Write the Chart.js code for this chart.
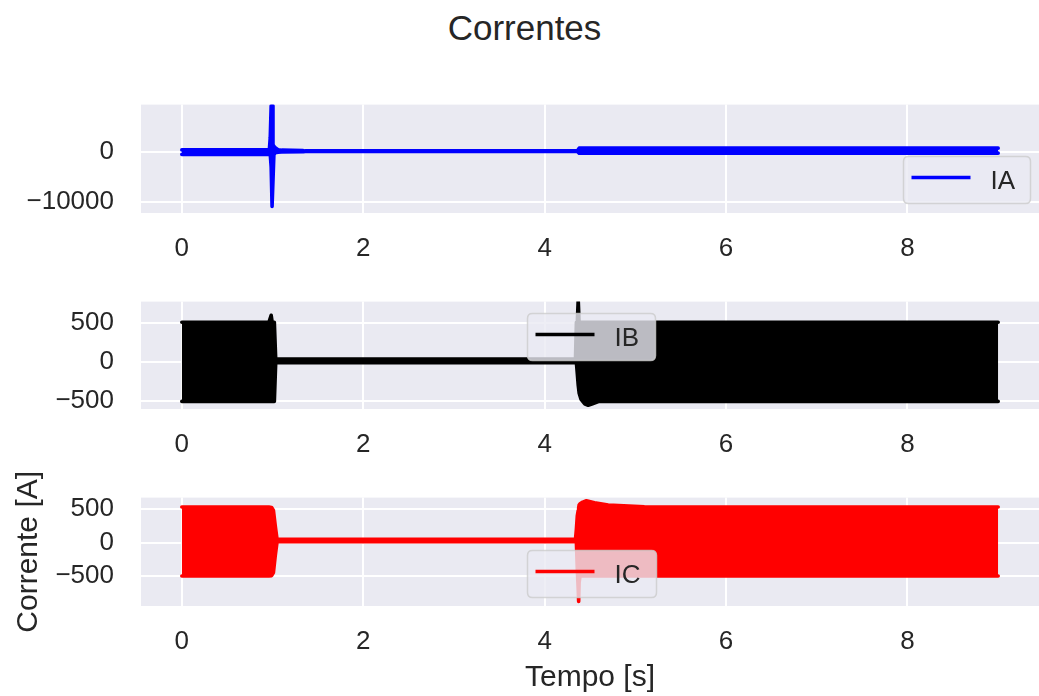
<!DOCTYPE html>
<html><head><meta charset="utf-8">
<script src="https://cdn.jsdelivr.net/npm/chart.js@4.4.1/dist/chart.umd.min.js"></script>
<style>
html,body{margin:0;padding:0;background:#fff;width:1039px;height:696px;overflow:hidden;position:relative}
#title{position:absolute;left:0;top:10px;width:1049px;text-align:center;font-family:'Liberation Sans',Arial,sans-serif;font-size:35px;line-height:35px;color:#262626}
canvas{position:absolute;left:0}
</style></head><body>
<div id="title">Correntes</div>
<canvas id="c1" width="1039" height="201" style="top:62px"></canvas>
<canvas id="c2" width="1039" height="200" style="top:259px"></canvas>
<canvas id="c3" width="1039" height="241" style="top:455px"></canvas>
<script>
// ---- tick labels ----
const xTicks = [0, 2, 4, 6, 8];
const iaTicks = [-10000, 0];
const ibTicks = [-500, 0, 500];
const icTicks = [-500, 0, 500];

// ---- IA (envelope of the oscillating current) ----
const iaTime  = [0, 0.965, 0.975, 0.985, 0.995, 1.005, 1.015, 1.03, 1.06, 1.1, 1.34, 1.36, 4.36, 4.38, 9.0];
const iaUpper = [450, 450, 3000, 9300, 9300, 1500, 1200, 900, 500, 400, 300, 250, 250, 800, 800];
const iaLower = [-450, -450, -450, -3000, -10900, -10900, -500, -100, 0, 50, 100, 150, 150, -200, -200];

// ---- IB ----
const ibTime  = [0, 0.96, 0.985, 0.995, 1.01, 1.02, 1.035, 1.05, 4.34, 4.35, 4.36, 4.37, 4.38, 4.40, 4.44, 4.48, 4.52, 4.6, 9.0];
const ibUpper = [510, 510, 600, 520, 510, 510, 36, 36, 36, 510, 510, 800, 510, 510, 510, 510, 510, 510, 510];
const ibLower = [-510, -510, -510, -510, -510, -510, -10, -10, -10, -10, -150, -300, -400, -480, -540, -560, -545, -510, -510];

// ---- IC ----
const icTime  = [0, 0.96, 0.99, 1.01, 1.03, 1.05, 4.34, 4.35, 4.36, 4.37, 4.375, 4.38, 4.39, 4.42, 4.46, 4.55, 4.7, 5.1, 9.0];
const icUpper = [531, 531, 525, 480, 250, 47, 47, 200, 400, 480, 520, 560, 580, 605, 624, 595, 560, 535, 531];
const icLower = [-500, -500, -495, -450, -200, 11, 11, 0, -400, -700, -883, -600, -500, -500, -500, -500, -500, -500, -500];

const BG = '#EAEAF2', TXT = '#262626';
const FAM = "'Liberation Sans', Arial, sans-serif";
Chart.defaults.font.family = FAM;
Chart.defaults.color = TXT;

const fmt = v => (v < 0 ? '\u2212' + Math.abs(v) : String(v));

const areaBg = {
  id: 'areaBg',
  beforeDraw(chart) {
    const {ctx, chartArea: a} = chart;
    ctx.save();
    ctx.fillStyle = BG;
    ctx.fillRect(a.left, a.top, a.right - a.left, a.bottom - a.top);
    ctx.restore();
  }
};

function rr(ctx, x, y, w, h, r) {
  ctx.beginPath();
  ctx.moveTo(x + r, y);
  ctx.lineTo(x + w - r, y); ctx.quadraticCurveTo(x + w, y, x + w, y + r);
  ctx.lineTo(x + w, y + h - r); ctx.quadraticCurveTo(x + w, y + h, x + w - r, y + h);
  ctx.lineTo(x + r, y + h); ctx.quadraticCurveTo(x, y + h, x, y + h - r);
  ctx.lineTo(x, y + r); ctx.quadraticCurveTo(x, y, x + r, y);
  ctx.closePath();
}

const boxLegend = {
  id: 'boxLegend',
  afterDatasetsDraw(chart, args, o) {
    const {ctx, chartArea: a} = chart;
    const x = Math.round(a.left + o.dx) + 0.5, y = Math.round(a.top + o.dy) + 0.5;
    const ds = chart.data.datasets[0];
    ctx.save();
    rr(ctx, x, y, o.w, o.h, 5);
    ctx.fillStyle = 'rgba(234,234,242,0.8)';
    ctx.fill();
    ctx.strokeStyle = 'rgba(204,204,204,0.8)';
    ctx.lineWidth = 1.5;
    ctx.stroke();
    ctx.strokeStyle = ds.borderColor;
    ctx.lineWidth = 3.6;
    ctx.beginPath();
    ctx.moveTo(x + 8, y + 21);
    ctx.lineTo(x + 67, y + 21);
    ctx.stroke();
    ctx.fillStyle = TXT;
    ctx.font = '26px ' + FAM;
    ctx.textBaseline = 'alphabetic';
    ctx.textAlign = 'left';
    ctx.fillText(ds.label, x + 87, y + 32);
    ctx.restore();
  }
};

function makeChart(id, time, upper, lower, label, color, yMin, yMax, yTicks, xH, leg, titles) {
  const up = time.map((t, i) => ({x: t, y: upper[i]}));
  const lo = time.map((t, i) => ({x: t, y: lower[i]}));
  return new Chart(document.getElementById(id), {
    type: 'line',
    data: {
      datasets: [
        {label: label, data: up, borderColor: color, backgroundColor: color, borderWidth: 3.6,
         pointRadius: 0, fill: '+1', tension: 0, borderJoinStyle: 'round', borderCapStyle: 'round'},
        {label: label + ' ', data: lo, borderColor: color, backgroundColor: color, borderWidth: 3.6,
         pointRadius: 0, fill: false, tension: 0, borderJoinStyle: 'round', borderCapStyle: 'round'}
      ]
    },
    options: {
      responsive: false, animation: false, devicePixelRatio: 1,
      events: [],
      layout: {padding: 0},
      plugins: {legend: {display: false}, tooltip: {enabled: false}, title: {display: false},
                boxLegend: leg},
      scales: {
        x: {
          type: 'linear', min: -0.45, max: 9.45,
          afterBuildTicks: s => { s.ticks = xTicks.map(v => ({value: v})); },
          afterFit: s => { s.height = xH; },
          grid: {color: '#ffffff', lineWidth: 2, drawTicks: false},
          border: {display: false},
          ticks: {padding: 20, font: {size: 26}, color: TXT, maxRotation: 0, autoSkip: false, callback: v => fmt(v)},
          title: titles ? {display: true, text: 'Tempo [s]', font: {size: 30}, color: TXT, padding: {top: 0, bottom: 0}} : {display: false}
        },
        y: {
          type: 'linear', min: yMin, max: yMax,
          afterBuildTicks: s => { s.ticks = yTicks.map(v => ({value: v})); },
          afterFit: s => { s.width = 141; },
          grid: {color: '#ffffff', lineWidth: 2, drawTicks: false},
          border: {display: false},
          ticks: {padding: 27, font: {size: 26}, color: TXT, autoSkip: false, callback: v => fmt(v)},
          title: titles ? {display: true, text: 'Corrente [A]', font: {size: 30}, color: TXT, padding: {top: 11, bottom: 0}} : {display: false}
        }
      }
    },
    plugins: [areaBg, boxLegend]
  });
}

makeChart('c1', iaTime, iaUpper, iaLower, 'IA', '#0000ff', -12216, 9549, iaTicks, 50,
  {dx: 762, dy: 51, w: 127, h: 47}, false);
makeChart('c2', ibTime, ibUpper, ibLower, 'IB', '#000000', -608, 777, ibTicks, 50,
  {dx: 386, dy: 11, w: 128, h: 47}, false);
makeChart('c3', icTime, icUpper, icLower, 'IC', '#ff0000', -950, 672, icTicks, 90,
  {dx: 386, dy: 52, w: 129, h: 47}, true);
</script>
</body></html>
